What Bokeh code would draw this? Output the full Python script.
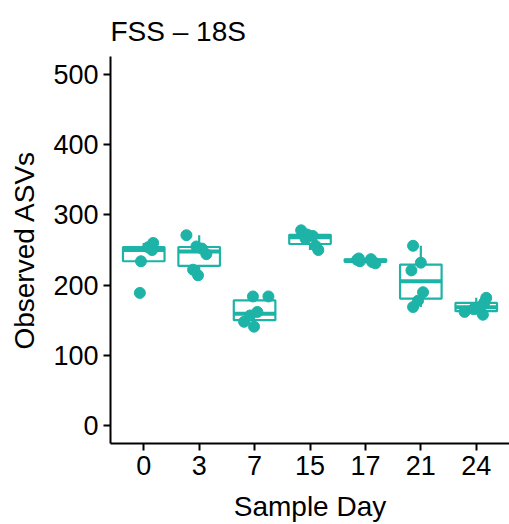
import numpy as np
from bokeh.plotting import figure
from bokeh.models import Range1d, FixedTicker, ColumnDataSource
from bokeh.embed import file_html
from bokeh.resources import INLINE

# ---- data ----
title_text = "FSS \u2013 18S"
days = ["0", "3", "7", "15", "17", "21", "24"]
day0 = [189, 234, 250, 254, 260]
day3 = [214, 222, 244, 252, 255, 271]
day7 = [141, 148, 157, 162, 184, 184]
day15 = [250, 256, 266, 270, 272, 278]
day17 = [231, 233, 234, 236, 237, 238]
day21 = [169, 178, 190, 221, 232, 256]
day24 = [158, 162, 166, 171, 176, 182]
values = [day0, day3, day7, day15, day17, day21, day24]

jit0 = [-0.07, -0.05, 0.15, 0.08, 0.17]
jit3 = [-0.02, -0.11, 0.13, 0.05, -0.05, -0.23]
jit7 = [-0.01, -0.19, -0.08, 0.05, -0.03, 0.25]
jit15 = [0.15, 0.10, -0.08, 0.05, -0.05, -0.16]
jit17 = [0.18, 0.12, -0.10, -0.15, 0.10, -0.12]
jit21 = [-0.14, -0.05, 0.04, -0.17, 0.0, -0.14]
jit24 = [0.12, -0.21, -0.05, 0.10, 0.15, 0.18]
jitters = [jit0, jit3, jit7, jit15, jit17, jit21, jit24]

TEAL = "#1DB3A7"
FONT = "Liberation Sans"

# ---- box statistics (ggplot-style, type 7 quantiles) ----
bx, q1s, meds, q3s, los, his = [], [], [], [], [], []
for i, v in enumerate(values):
    a = np.array(v, dtype=float)
    q1, med, q3 = np.percentile(a, [25, 50, 75])
    iqr = q3 - q1
    lo = a[a >= q1 - 1.5 * iqr].min()
    hi = a[a <= q3 + 1.5 * iqr].max()
    bx.append(i); q1s.append(q1); meds.append(med); q3s.append(q3)
    los.append(min(lo, q1)); his.append(max(hi, q3))

box_src = ColumnDataSource(dict(
    x=bx, left=[i - 0.375 for i in bx], right=[i + 0.375 for i in bx],
    q1=q1s, med=meds, q3=q3s, lo=los, hi=his))

px, py = [], []
for i, (v, j) in enumerate(zip(values, jitters)):
    for val, off in zip(v, j):
        px.append(i + off)
        py.append(val)
pt_src = ColumnDataSource(dict(x=px, y=py))

p = figure(width=509, height=524, output_backend="svg", toolbar_location=None,
           x_range=Range1d(-0.6, 6.6), y_range=Range1d(-25, 525),
           min_border_left=110, min_border_right=0, min_border_top=56,
           min_border_bottom=81)

p.title.text = title_text
p.title.text_font = FONT
p.title.text_font_size = "28px"
p.title.text_font_style = "normal"
p.title.text_color = "black"
p.title.offset = 0
p.title.standoff = 20

p.segment(x0="x", x1="x", y0="q3", y1="hi", source=box_src, line_color=TEAL, line_width=2.2)
p.segment(x0="x", x1="x", y0="lo", y1="q1", source=box_src, line_color=TEAL, line_width=2.2)
p.quad(left="left", right="right", bottom="q1", top="q3", source=box_src,
       fill_color="white", fill_alpha=0.0, line_color=TEAL, line_width=2.2)
p.segment(x0="left", x1="right", y0="med", y1="med", source=box_src,
          line_color=TEAL, line_width=4)
p.scatter(x="x", y="y", source=pt_src, size=11, fill_color=TEAL, line_color=TEAL)

p.xgrid.visible = False
p.ygrid.visible = False
p.outline_line_color = None

p.xaxis.ticker = FixedTicker(ticks=list(range(len(days))))
p.xaxis.major_label_overrides = {i: d for i, d in enumerate(days)}
p.yaxis.ticker = FixedTicker(ticks=[0, 100, 200, 300, 400, 500])

p.xaxis.axis_label = "Sample Day"
p.yaxis.axis_label = "Observed ASVs"

for ax in (p.xaxis[0], p.yaxis[0]):
    ax.axis_line_width = 2
    ax.axis_line_color = "black"
    ax.major_tick_line_width = 2
    ax.major_tick_line_color = "black"
    ax.major_tick_out = 7
    ax.major_tick_in = 0
    ax.minor_tick_line_color = None
    ax.major_label_text_font = FONT
    ax.major_label_text_font_size = "27px"
    ax.major_label_text_color = "black"
    ax.major_label_standoff = 5
    ax.axis_label_text_font = FONT
    ax.axis_label_text_font_size = "28px"
    ax.axis_label_text_font_style = "normal"
    ax.axis_label_text_color = "black"
p.xaxis[0].axis_label_standoff = 13
p.yaxis[0].axis_label_standoff = 10

open("out.html", "w").write(file_html(p, INLINE))
